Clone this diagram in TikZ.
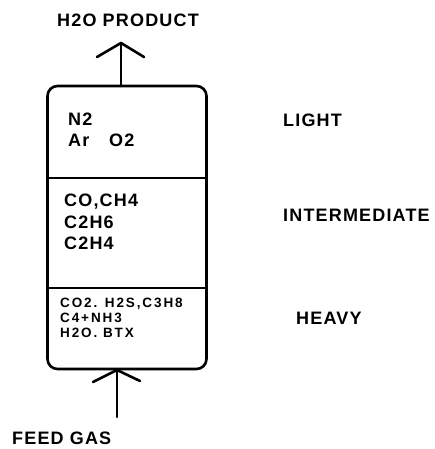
\documentclass[tikz,border=0pt]{standalone}
\usepackage{fontspec}
\setmainfont{Liberation Sans}[LetterSpace=6.5]
\usepackage{tikz}
\usetikzlibrary{arrows.meta, positioning, calc}

\begin{document}
\begin{tikzpicture}[
  x=1pt, y=-1pt,
  column/.style={draw, line width=2.6pt, rounded corners=10pt, minimum width=159pt, minimum height=283pt, inner sep=0pt},
  label/.style={anchor=west, font=\fontsize{18}{21.5}\selectfont\bfseries, inner sep=0pt},
  species/.style={anchor=west, font=\fontsize{18}{21.5}\selectfont\bfseries, inner sep=0pt, align=left},
  heavysp/.style={anchor=west, font=\fontsize{13.5}{15}\selectfont\bfseries\addfontfeature{LetterSpace=14}, inner sep=0pt, align=left},
  flow/.style={line width=2.6pt, line cap=round},
  barb/.style={line width=2.6pt, line cap=round, line join=round},
  divider/.style={line width=2.4pt}
]
  \useasboundingbox (0,0) rectangle (434,449);

  % column and its three zones
  \node[column] (col) at (127,227.5) {};
  \coordinate (div1) at (0,178);
  \coordinate (div2) at (0,288);
  \draw[divider] (col.west |- div1) -- (col.east |- div1);
  \draw[divider] (col.west |- div2) -- (col.east |- div2);

  % contents of each zone
  \node[species] (light) at (68,130) {N2\\Ar\hspace{1.1em}O2};
  \node[species] (inter) at (64,222) {CO,CH4\\C2H6\\C2H4};
  \node[heavysp] (heavy) at (60,318) {CO2. H2S,C3H8\\C4+NH3\\H2O. BTX};

  % zone labels
  \node[label] (lightlbl) at (283,120) {LIGHT};
  \node[label] (interlbl) at (283,215) {INTERMEDIATE};
  \node[label] (heavylbl) at (296,318.5) {HEAVY};

  % streams in and out
  \node[label, anchor=center] (product) at (128,20) {H2O PRODUCT};
  \node[label] (feed) at (12,438) {FEED GAS};
  \coordinate (top) at (121,86);
  \coordinate (topout) at (121,43);
  \coordinate (feedin) at (117,417);
  \coordinate (bottom) at (117,370);
  \coordinate (topl) at (97,57);
  \coordinate (topr) at (144,57);
  \coordinate (botl) at (93,382);
  \coordinate (botr) at (140,381);
  \draw[flow] (top) -- (topout);
  \draw[barb] (topl) -- (topout) -- (topr);
  \draw[flow] (feedin) -- (bottom);
  \draw[barb] (botl) -- (bottom) -- (botr);
\end{tikzpicture}
\end{document}
